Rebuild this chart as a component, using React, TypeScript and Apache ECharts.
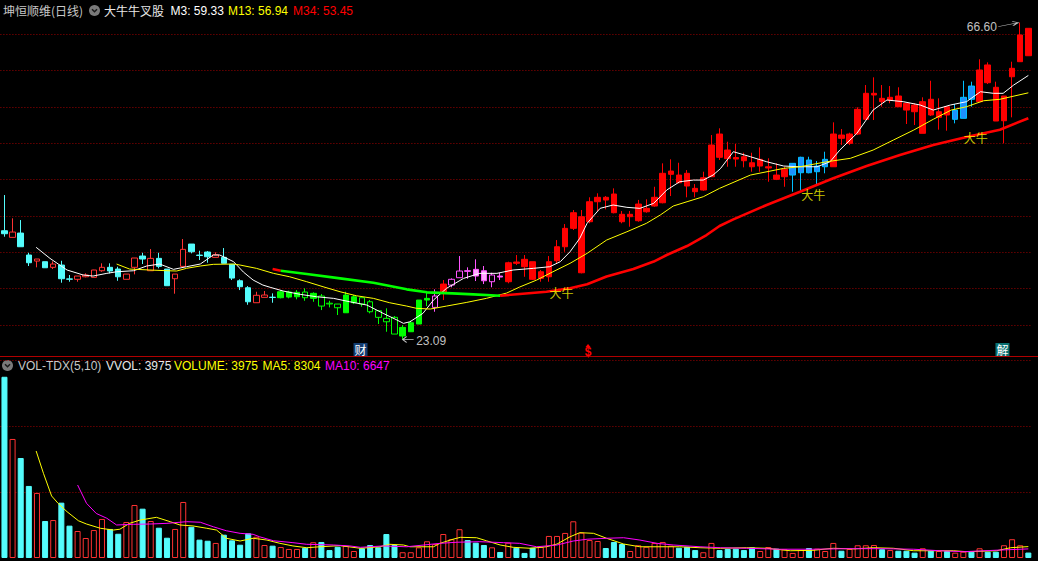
import React, { useEffect, useRef } from 'react';
import * as echarts from 'echarts';

// Daily candles: [open, close, low, high]
const candles: number[][] = [
  [37.97, 37.56, 37.15, 42.88], [37.06, 37.79, 37.06, 39.68], [37.65, 35.77, 35.77, 39.44], [34.63, 33.57, 33.12, 34.94], [33.80, 34.08, 32.94, 34.08],
  [33.71, 32.88, 32.88, 33.71], [32.94, 33.39, 32.70, 33.76], [33.25, 31.37, 30.82, 33.84], [31.35, 31.30, 30.96, 31.88], [31.29, 31.74, 30.96, 31.74],
  [31.64, 31.88, 31.56, 32.11], [31.56, 32.57, 31.56, 32.60], [32.47, 32.94, 32.33, 33.49], [32.94, 32.43, 32.11, 33.49], [32.70, 31.64, 31.09, 33.02],
  [31.29, 32.01, 31.29, 32.01], [32.94, 34.22, 31.97, 34.22], [34.49, 34.08, 33.39, 34.94], [32.47, 34.17, 32.47, 35.45], [34.17, 33.07, 32.80, 34.94],
  [32.70, 30.41, 30.41, 32.70], [31.37, 32.01, 29.31, 32.01], [33.07, 35.41, 33.07, 36.83], [36.14, 35.08, 34.86, 36.14], [34.62, 34.57, 33.94, 35.22],
  [35.04, 34.39, 33.57, 35.18], [34.31, 34.67, 34.31, 35.00], [34.31, 33.49, 33.49, 35.59], [33.35, 31.46, 31.19, 33.35], [31.09, 30.27, 29.81, 31.29],
  [30.13, 28.20, 27.79, 30.36], [28.07, 29.09, 28.07, 29.58], [28.81, 29.13, 28.81, 29.68], [28.83, 28.79, 28.07, 29.36], [28.76, 29.58, 28.67, 29.81],
  [28.85, 29.54, 28.67, 29.72], [28.89, 29.50, 28.54, 29.81], [29.54, 28.76, 28.34, 30.05], [28.67, 29.36, 28.20, 29.50], [28.99, 27.61, 27.06, 29.26],
  [28.00, 27.90, 27.43, 28.34], [27.89, 27.38, 26.38, 27.89], [26.69, 29.13, 26.69, 29.58], [28.07, 28.89, 27.89, 29.13], [28.76, 27.89, 27.52, 28.76],
  [28.20, 26.83, 26.61, 28.44], [26.97, 26.06, 25.14, 26.97], [25.92, 25.45, 24.08, 27.30], [26.06, 23.76, 23.76, 26.24], [23.49, 24.68, 23.09, 25.00],
  [24.08, 25.32, 24.08, 25.59], [25.14, 28.44, 25.14, 28.44], [28.44, 28.67, 27.61, 29.58], [27.43, 28.99, 26.83, 29.91], [29.36, 30.64, 28.44, 31.19],
  [30.50, 31.29, 30.19, 31.42], [31.51, 32.43, 31.51, 34.49], [32.47, 32.39, 31.37, 32.94], [32.66, 31.74, 31.05, 34.04], [32.47, 31.09, 30.64, 33.12],
  [30.96, 31.88, 30.19, 32.19], [31.74, 31.60, 31.19, 32.19], [30.96, 33.57, 30.74, 33.71], [33.67, 33.49, 33.25, 34.63], [34.04, 33.02, 31.64, 34.63],
  [33.71, 31.29, 31.19, 33.71], [31.42, 32.33, 30.96, 32.57], [31.64, 33.71, 30.96, 34.49], [33.84, 35.77, 33.49, 36.69], [35.77, 38.30, 35.08, 38.89],
  [38.30, 40.45, 38.07, 40.82], [32.19, 39.90, 32.11, 40.82], [39.21, 41.96, 38.99, 42.57], [41.96, 42.57, 40.68, 43.12], [42.57, 42.19, 40.91, 42.74],
  [43.02, 40.45, 40.36, 43.80], [40.23, 39.21, 38.99, 40.68], [39.90, 40.23, 38.52, 40.68], [39.35, 41.64, 39.21, 42.21], [40.58, 41.05, 40.45, 42.29],
  [41.37, 42.57, 41.27, 44.02], [41.82, 45.87, 41.74, 47.24], [45.73, 46.18, 42.74, 47.79], [45.63, 44.57, 44.49, 47.32], [45.87, 44.12, 42.57, 46.32],
  [43.80, 43.34, 42.57, 44.39], [43.57, 45.26, 43.47, 46.09], [45.40, 49.76, 45.40, 51.13], [51.27, 48.07, 47.70, 52.06], [49.07, 47.88, 46.77, 50.21],
  [48.04, 47.83, 46.77, 49.90], [48.15, 47.60, 46.69, 48.70], [47.32, 46.77, 46.09, 48.70], [46.87, 47.79, 46.09, 49.44], [46.60, 46.77, 44.71, 47.93],
  [45.63, 45.04, 44.94, 47.24], [45.40, 46.42, 44.02, 46.77], [45.63, 47.24, 43.34, 47.28], [45.95, 48.07, 43.34, 48.15], [47.70, 45.95, 45.87, 48.15],
  [46.09, 46.87, 44.36, 47.56], [46.77, 47.79, 45.87, 48.84], [46.77, 51.27, 46.77, 52.88], [51.13, 50.68, 49.76, 51.96], [49.99, 51.27, 49.76, 51.45],
  [51.27, 54.67, 51.13, 54.95], [53.29, 56.87, 53.20, 58.01], [56.64, 56.87, 53.20, 59.07], [56.18, 55.72, 55.03, 58.01], [55.95, 56.32, 55.50, 57.87],
  [56.50, 55.03, 55.03, 57.70], [55.50, 54.57, 52.65, 55.50], [55.26, 54.34, 52.51, 55.50], [51.37, 55.72, 51.37, 56.32], [56.05, 53.89, 53.75, 58.60],
  [53.57, 54.34, 51.87, 56.18], [55.03, 53.89, 51.73, 55.03], [53.29, 54.57, 52.74, 55.40], [53.43, 56.32, 53.43, 58.60], [57.87, 56.05, 55.03, 58.47],
  [55.72, 60.08, 55.72, 61.55], [60.77, 58.33, 58.15, 61.13], [57.70, 53.06, 53.06, 58.47], [53.10, 56.50, 49.99, 56.50], [59.15, 60.31, 53.57, 61.22],
  [61.22, 64.89, 61.22, 66.60], [65.81, 62.04, 62.04, 65.81],
];

// Indicator state per day: n = none, g = falling (green), p = turning (pink), r = rising (red), b = pullback (blue)
const signal =
  'nnnnnnnnnnnnnnnnnnnnnnnnnnnnnnnnnn' +
  'ggggggggggggggggggg' +
  'prppppppp' +
  'rrrrrrrrrrrrrrrrrrrrrrrrrrrrrrrrrrr' +
  'bbbbb' +
  'rrrrrrrrrrrrrrr' +
  'bbb' +
  'rrrrrrr';

const volumes: number[] = [
  132300, 86900, 73000, 52600, 47500, 27000, 27700, 40400, 23600, 19700,
  14600, 20400, 28500, 21200, 17700, 26300, 38700, 36000, 27000, 22100,
  14800, 21200, 40900, 22800, 13400, 12600, 11000, 17000, 12900, 9700,
  18000, 15500, 9500, 9000, 8000, 6600, 6600, 7500, 11500, 11700,
  5800, 8200, 8800, 5100, 7100, 9500, 7800, 17500, 9500, 4200,
  4200, 7800, 12200, 10200, 17500, 13700, 21000, 13100, 11200, 9500,
  7800, 4400, 11200, 7500, 3700, 7500, 8000, 16100, 16100, 18300,
  26800, 18500, 13100, 12400, 7300, 11700, 10200, 5100, 9300, 8200,
  11000, 11700, 9000, 7500, 8200, 5800, 4200, 11000, 5800, 6600,
  6800, 5800, 7800, 5100, 8000, 6800, 6400, 3700, 5800, 7300,
  6800, 5100, 11000, 5300, 6600, 9300, 9300, 9500, 6400, 5800,
  5300, 5300, 3900, 7100, 5300, 5100, 5100, 3900, 4600, 4600,
  7100, 4600, 4600, 9300, 13700, 9300, 3975,
];

// Indicator lines: [day index, value]
const m3Line: number[][] = [
  [3.9, 35.69], [5.6, 34.17], [7.7, 32.57], [9.7, 31.88], [10.9, 31.74], [12.6, 32.11], [13.8, 32.33], [15.9, 32.47],
  [17.5, 33.12], [19.1, 33.39], [20.8, 32.66], [22.4, 33.02], [24.1, 33.39], [25.7, 34.63], [26.5, 34.63], [28.2, 33.71],
  [29.4, 32.29], [30.6, 31.19], [31.8, 30.50], [32.7, 30.19], [34.3, 29.68], [36.4, 29.22], [38.4, 28.89], [40.5, 28.67],
  [42.5, 28.20], [44.6, 27.75], [46.6, 26.61], [48.3, 25.69], [49.1, 25.23], [49.9, 25.45], [51.5, 26.61], [52.8, 28.44],
  [54.4, 30.05], [56.5, 31.42], [58.5, 32.11], [60.6, 32.11], [62.6, 32.57], [65.1, 32.80], [67.1, 33.02], [68.4, 33.71],
  [69.6, 35.08], [70.8, 36.93], [71.7, 38.99], [73.3, 41.05], [74.9, 41.51], [76.6, 41.19], [78.2, 41.05], [79.9, 41.74],
  [81.5, 43.57], [83.1, 44.71], [84.8, 44.94], [86.0, 44.94], [87.2, 45.63], [88.1, 46.50], [89.7, 48.84], [91.8, 48.15],
  [93.8, 47.46], [95.9, 46.87], [97.9, 46.77], [100.0, 46.77], [101.6, 47.46], [102.8, 49.07], [104.9, 51.37], [106.9, 54.57],
  [108.6, 55.95], [110.6, 55.72], [112.7, 55.26], [114.3, 54.57], [116.4, 55.26], [118.4, 55.72], [120.1, 57.09], [121.7, 56.87],
  [122.9, 56.87], [124.2, 58.01], [126.0, 59.33],
];
const m13Line: number[][] = [
  [13.8, 33.39], [15.4, 32.70], [17.9, 32.57], [20.0, 32.47], [21.2, 32.43], [22.4, 32.80], [24.1, 33.12], [25.7, 33.35],
  [28.2, 33.39], [29.0, 33.25], [31.0, 32.80], [33.1, 32.11], [35.1, 31.64], [37.2, 30.96], [39.2, 30.27], [41.3, 29.58],
  [43.3, 29.03], [45.4, 28.67], [47.4, 28.07], [49.5, 27.61], [50.7, 27.30], [52.4, 27.20], [54.4, 27.61], [56.9, 28.12],
  [59.3, 28.67], [61.8, 29.40], [63.4, 30.23], [65.5, 31.19], [67.5, 32.33], [69.6, 33.49], [71.7, 34.86], [74.1, 36.69],
  [76.6, 37.83], [79.0, 38.99], [80.7, 40.13], [82.3, 41.37], [84.0, 41.96], [86.0, 42.65], [88.0, 43.80], [91.8, 45.63],
  [95.9, 46.55], [97.9, 46.77], [101.2, 47.46], [104.1, 47.93], [106.9, 49.07], [109.4, 50.45], [111.9, 51.82], [114.3, 53.30],
  [116.5, 54.57], [118.4, 55.03], [120.5, 55.85], [122.5, 56.05], [126.0, 56.94],
];
const m34RiseA: number[][] = [[33, 32.70], [34, 32.47]];
const m34Fall: number[][] = [
  [34, 32.47], [37.2, 32.01], [41.3, 31.42], [45.4, 30.82], [49.5, 29.91], [52.0, 29.50], [55.1, 29.36], [57.7, 29.22], [61.0, 29.03],
];
const m34RiseB: number[][] = [
  [61.0, 29.03], [66.7, 29.58], [69.6, 30.05], [71.7, 30.60], [74.1, 31.67], [77.4, 32.70], [79.9, 33.73], [81.5, 34.63],
  [84.0, 35.87], [86.4, 37.38], [88.0, 38.62], [89.7, 39.54], [93.8, 41.51], [97.9, 43.34], [102.0, 45.18], [106.1, 46.87],
  [110.2, 48.38], [114.3, 49.76], [118.4, 50.86], [122.5, 51.86], [126.0, 53.45],
];
const volMa5: number[][] = [
  [3.9, 78100], [4.8, 61800], [5.8, 45300], [6.6, 39900], [7.7, 33800], [9.1, 27200], [10.1, 24800], [11.8, 21700],
  [13.4, 20400], [14.2, 21000], [15.4, 25300], [16.7, 27700], [18.7, 29700], [20.4, 26500], [21.6, 24100], [23.2, 23400],
  [24.9, 21700], [26.1, 20400], [27.3, 14400], [29.0, 12400], [30.6, 14400], [32.3, 13100], [33.9, 10700], [35.5, 8800],
  [37.2, 7500], [38.8, 8200], [41.3, 9000], [43.8, 7100], [46.2, 8200], [47.4, 10000], [49.1, 9500], [49.9, 8200],
  [52.8, 8200], [53.6, 10700], [55.2, 13700], [56.1, 15100], [58.1, 14800], [59.3, 12600], [61.0, 9500], [62.6, 7800],
  [64.7, 7100], [66.7, 8200], [68.0, 10200], [69.6, 15500], [70.8, 18500], [72.5, 18000], [74.1, 14400], [76.2, 10200],
  [78.2, 8200], [81.3, 8200], [83.1, 8200], [85.6, 7500], [88.1, 7100], [91.3, 7500], [93.8, 7100], [96.7, 5300],
  [99.5, 5600], [102.0, 7100], [104.5, 6600], [106.9, 7500], [109.4, 7100], [111.9, 5300], [114.3, 5300], [116.8, 5300],
  [118.4, 4600], [122.1, 5300], [123.8, 7500], [126.0, 8304],
];
const volMa10: number[][] = [
  [9.0, 53300], [10.1, 39900], [11.3, 32500], [12.6, 29000], [13.8, 24100], [15.9, 24600], [17.9, 24800], [20.0, 25300],
  [22.4, 26500], [24.1, 26100], [25.7, 22800], [27.3, 19900], [29.0, 18000], [30.6, 17300], [31.4, 15500], [33.1, 12600],
  [35.5, 11200], [37.2, 10000], [40.5, 9500], [42.5, 8800], [43.8, 7800], [46.6, 8800], [49.5, 8200], [53.6, 10700],
  [55.7, 11500], [58.5, 11900], [61.4, 11200], [63.4, 10700], [65.5, 8200], [68.0, 9500], [70.0, 12400], [71.7, 13700],
  [74.1, 14400], [76.2, 14800], [78.2, 13100], [80.3, 10700], [82.3, 9500], [85.6, 8200], [88.1, 7500], [91.3, 7100],
  [95.4, 6400], [99.5, 6400], [103.7, 6800], [107.8, 6800], [111.9, 6400], [115.1, 5300], [118.0, 4600], [122.5, 5800],
  [126.0, 6647],
];

// "大牛" signals: [day index, price]
const bullSignals: number[][] = [[67, 29.47], [98, 42.99], [118, 50.79]];
// info-mine markers under the candles
const eventDays: number[] = [44, 72, 123];
const eventTexts: string[] = ['财', '$', '解'];
const highPoint = { day: 125, price: 66.6 };
const lowPoint = { day: 49, price: 23.09 };

const headerValues = { m3: 59.33, m13: 56.94, m34: 53.45 };
const volHeader = { vvol: 3975, volume: 3975, ma5: 8304, ma10: 6647 };

const UP_RED = '#FF3232';
const DOWN_CYAN = '#54FCFC';
const FONT = '"Liberation Sans", Arial, "Noto Sans CJK SC", sans-serif';
const CJK = '"Noto Sans CJK SC", "Liberation Sans", sans-serif';

const sty = (fill: string, stroke: string) => ({ color: fill, color0: fill, borderColor: stroke, borderColor0: stroke });

function candleStyle(code: string, up: boolean) {
  if (code === 'g') return up ? sty('#00FF00', '#00FF00') : sty('#000000', '#00FF00');
  if (code === 'p') return up ? sty('#000000', '#FF55FF') : sty('#FFAAFF', '#FF55FF');
  if (code === 'r') return sty('#FF0000', '#FF0000');
  if (code === 'b') return sty('#1E90FF', '#00BFFF');
  return up ? sty('#000000', UP_RED) : sty(DOWN_CYAN, DOWN_CYAN);
}

export default function App() {
  const ref = useRef<HTMLDivElement>(null);
  useEffect(() => {
    if (!ref.current) return;
    const chart = echarts.init(ref.current, undefined, { renderer: 'svg' });
    const days = candles.map((_, i) => String(i));
    const candleData = candles.map((c, i) => ({
      value: c,
      itemStyle: candleStyle(signal[i], c[1] > c[0]),
    }));
    const volData = volumes.map((v, i) => {
      const up = candles[i][1] > candles[i][0];
      return {
        value: v,
        itemStyle: up
          ? { color: '#000000', borderColor: UP_RED, borderWidth: 1 }
          : { color: DOWN_CYAN, borderColor: DOWN_CYAN, borderWidth: 1 },
      };
    });
    const gridLeft = 0.4;
    const gridWidth = 1032;
    const split = { show: true, showMinLine: false, showMaxLine: false, lineStyle: { color: '#9A0000', width: 1, type: [1, 2] } };
    const lineBase = { type: 'line', symbol: 'none', silent: true, animation: false };

    const eventStyles: any[] = eventDays.map((d, k) => {
      const t = eventTexts[k];
      if (t === '$') {
        return {
          coord: [d, candles[d][1]], y: 351.5, symbol: 'rect', symbolSize: [8, 10], symbolOffset: [-1.5, 0],
          itemStyle: { color: 'rgba(0,0,0,0)' },
          label: { show: true, formatter: t, position: 'inside', color: '#FF0000', fontSize: 12, fontWeight: 'bold', fontFamily: FONT },
        };
      }
      return {
        coord: [d, candles[d][1]], y: 349.5, symbol: 'rect', symbolSize: [14, 13], symbolOffset: [-1.5, 0],
        itemStyle: { color: t === '财' ? '#123C70' : '#0A7070' },
        label: { show: true, formatter: t, position: 'inside', color: '#FFFFFF', fontSize: 12, fontFamily: CJK },
      };
    });
    eventDays.forEach((d, k) => {
      if (eventTexts[k] === '$') {
        eventStyles.push({
          coord: [d, candles[d][1]], y: 345.5, symbol: 'triangle', symbolSize: [5, 3], symbolOffset: [-1.5, 0],
          itemStyle: { color: '#FF0000' }, label: { show: false },
        });
      }
    });

    const option: any = {
      backgroundColor: '#000000',
      animation: false,
      grid: [
        { left: gridLeft, width: gridWidth, top: 12.4, height: 349 },
        { left: gridLeft, width: gridWidth, top: 357, height: 201 },
      ],
      xAxis: [
        { type: 'category', gridIndex: 0, data: days, show: false },
        { type: 'value', gridIndex: 0, min: -0.5, max: candles.length - 0.5, show: false },
        { type: 'category', gridIndex: 1, data: days, show: false },
        { type: 'value', gridIndex: 1, min: -0.5, max: candles.length - 0.5, show: false },
      ],
      yAxis: [
        { type: 'value', gridIndex: 0, min: 20, max: 68, interval: 5, axisLine: { show: false }, axisTick: { show: false }, axisLabel: { show: false }, splitLine: split },
        { type: 'value', gridIndex: 1, min: 0, max: 146730, interval: 48000, axisLine: { show: false }, axisTick: { show: false }, axisLabel: { show: false }, splitLine: split },
      ],
      series: [
        {
          type: 'candlestick', xAxisIndex: 0, yAxisIndex: 0, data: candleData, barWidth: 6,
          itemStyle: { borderWidth: 1 }, silent: true,
          markPoint: {
            silent: true, animation: false,
            data: [
              {
                coord: [highPoint.day, highPoint.price], symbol: 'path://M0,5L20,1M14,0L20,1L15,4', symbolSize: [20, 5], symbolOffset: [-12, 1.5],
                itemStyle: { color: 'rgba(0,0,0,0)', borderColor: '#C0C0C0', borderWidth: 1 },
                label: { show: true, formatter: highPoint.price.toFixed(2), position: 'inside', align: 'right', offset: [-11.4, 2.9], color: '#C0C0C0', fontSize: 12, fontFamily: FONT },
              },
              {
                coord: [lowPoint.day, lowPoint.price], symbol: 'path://M0,3L11,3M4,0L0,3L4,6', symbolSize: [11, 6], symbolOffset: [5.5, 0.5],
                itemStyle: { color: 'rgba(0,0,0,0)', borderColor: '#C0C0C0', borderWidth: 1 },
                label: { show: true, formatter: lowPoint.price.toFixed(2), position: 'inside', align: 'left', offset: [8, 1.2], color: '#C0C0C0', fontSize: 12, fontFamily: FONT },
              },
              ...eventStyles,
            ],
          },
        },
        { ...lineBase, xAxisIndex: 1, yAxisIndex: 0, data: m3Line, lineStyle: { color: '#FFFFFF', width: 1 } },
        { ...lineBase, xAxisIndex: 1, yAxisIndex: 0, data: m13Line, lineStyle: { color: '#FFFF00', width: 1 } },
        { ...lineBase, xAxisIndex: 1, yAxisIndex: 0, data: m34RiseA, lineStyle: { color: '#FF0000', width: 2.6 } },
        { ...lineBase, xAxisIndex: 1, yAxisIndex: 0, data: m34Fall, lineStyle: { color: '#00FF00', width: 2.6 } },
        { ...lineBase, xAxisIndex: 1, yAxisIndex: 0, data: m34RiseB, lineStyle: { color: '#FF0000', width: 2.6 } },
        {
          type: 'scatter', xAxisIndex: 0, yAxisIndex: 0, data: bullSignals, symbolSize: 1, silent: true,
          itemStyle: { color: 'rgba(0,0,0,0)' },
          label: { show: true, formatter: '大牛', position: 'right', distance: 0, color: '#FFFF00', fontSize: 12, fontFamily: CJK },
          z: 5,
        },
        {
          type: 'bar', xAxisIndex: 2, yAxisIndex: 1, data: volData, barWidth: 6, silent: true,
        },
        { ...lineBase, xAxisIndex: 3, yAxisIndex: 1, data: volMa5, lineStyle: { color: '#FFFF00', width: 1 } },
        { ...lineBase, xAxisIndex: 3, yAxisIndex: 1, data: volMa10, lineStyle: { color: '#FF00FF', width: 1 } },
      ],
      graphic: [
        { type: 'line', shape: { x1: 0, y1: 356.5, x2: 1038, y2: 356.5 }, style: { stroke: '#B00000', lineWidth: 1 }, silent: true },
        { type: 'text', x: 3, y: 10.5, style: { text: '坤恒顺维(日线)', fill: '#C8C8C8', font: `12px ${CJK}`, verticalAlign: 'middle' } },
        { type: 'circle', shape: { cx: 94.5, cy: 10.5, r: 5.5 }, style: { fill: '#7A7A7A' } },
        { type: 'polyline', shape: { points: [[92, 9.3], [94.5, 11.8], [97, 9.3]] }, style: { stroke: '#1A1A1A', lineWidth: 1.5, fill: 'none' } },
        { type: 'text', x: 104, y: 10.5, style: { text: '大牛牛叉股', fill: '#E8E8E8', font: `12px ${CJK}`, verticalAlign: 'middle' } },
        { type: 'text', x: 170.5, y: 10.5, style: { text: `M3: ${headerValues.m3.toFixed(2)}`, fill: '#FFFFFF', font: `12px ${FONT}`, verticalAlign: 'middle' } },
        { type: 'text', x: 228, y: 10.5, style: { text: `M13: ${headerValues.m13.toFixed(2)}`, fill: '#FFFF00', font: `12px ${FONT}`, verticalAlign: 'middle' } },
        { type: 'text', x: 293, y: 10.5, style: { text: `M34: ${headerValues.m34.toFixed(2)}`, fill: '#FF0000', font: `12px ${FONT}`, verticalAlign: 'middle' } },
        { type: 'circle', shape: { cx: 7.5, cy: 365.5, r: 5.5 }, style: { fill: '#7A7A7A' } },
        { type: 'polyline', shape: { points: [[5, 364.3], [7.5, 366.8], [10, 364.3]] }, style: { stroke: '#1A1A1A', lineWidth: 1.5, fill: 'none' } },
        { type: 'text', x: 18, y: 365.5, style: { text: 'VOL-TDX(5,10)', fill: '#C8C8C8', font: `12px ${FONT}`, verticalAlign: 'middle' } },
        { type: 'text', x: 106, y: 365.5, style: { text: `VVOL: ${volHeader.vvol}`, fill: '#E8E8E8', font: `12px ${FONT}`, verticalAlign: 'middle' } },
        { type: 'text', x: 174, y: 365.5, style: { text: `VOLUME: ${volHeader.volume}`, fill: '#FFFF00', font: `12px ${FONT}`, verticalAlign: 'middle' } },
        { type: 'text', x: 262.5, y: 365.5, style: { text: `MA5: ${volHeader.ma5}`, fill: '#FFFF00', font: `12px ${FONT}`, verticalAlign: 'middle' } },
        { type: 'text', x: 325, y: 365.5, style: { text: `MA10: ${volHeader.ma10}`, fill: '#FF00FF', font: `12px ${FONT}`, verticalAlign: 'middle' } },
      ],
    };
    chart.setOption(option);
    return () => chart.dispose();
  }, []);
  return (
    <div
      ref={ref}
      style={{ position: 'fixed', left: 0, top: 0, width: 1038, height: 561, background: '#000' }}
    />
  );
}
